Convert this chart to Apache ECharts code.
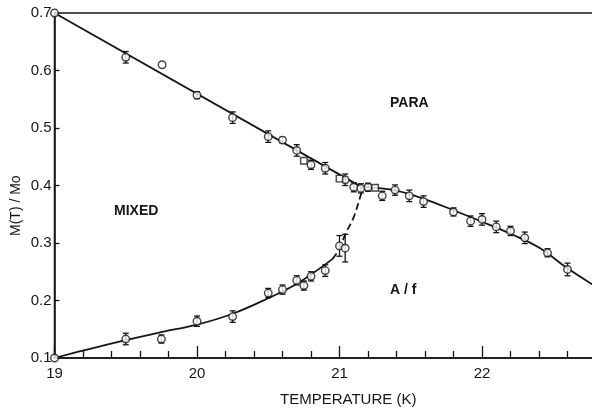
<!DOCTYPE html>
<html>
<head>
<meta charset="utf-8">
<script src="https://cdn.jsdelivr.net/npm/echarts@6/dist/echarts.min.js"></script>
<style>
  html, body { margin: 0; padding: 0; background: #fff; }
  #chart { width: 592px; height: 409px; }
</style>
</head>
<body>
<div id="chart"></div>
<script>
// upper boundary (PARA / MIXED) - open circles
const upperT   = [19.0, 19.50, 19.755, 20.0, 20.25, 20.50, 20.60, 20.70, 20.80, 20.90, 21.04, 21.10, 21.15, 21.20, 21.30, 21.39, 21.49, 21.59, 21.80, 21.92, 22.00, 22.10, 22.20, 22.30, 22.46, 22.60]
const upperM   = [0.700, 0.623, 0.610, 0.557, 0.518, 0.485, 0.479, 0.461, 0.436, 0.430, 0.410, 0.397, 0.395, 0.397, 0.382, 0.392, 0.382, 0.372, 0.354, 0.338, 0.341, 0.328, 0.321, 0.309, 0.283, 0.254]
const upperErr = [0, 0.010, 0, 0.006, 0.010, 0.010, 0.005, 0.010, 0.008, 0.010, 0.010, 0.008, 0.008, 0.007, 0.008, 0.009, 0.010, 0.010, 0.007, 0.009, 0.010, 0.010, 0.008, 0.010, 0.007, 0.011]
// square points on the upper boundary
const squareT = [20.75, 21.00, 21.25]
const squareM = [0.443, 0.412, 0.396]
// lower boundary (A/f / MIXED)
const lowerT   = [19.0, 19.50, 19.75, 20.00, 20.25, 20.50, 20.60, 20.70, 20.75, 20.80, 20.90, 21.00, 21.04]
const lowerM   = [0.100, 0.133, 0.133, 0.164, 0.172, 0.213, 0.219, 0.235, 0.226, 0.242, 0.252, 0.295, 0.291]
const lowerErr = [0, 0.010, 0.007, 0.009, 0.010, 0.008, 0.008, 0.008, 0.008, 0.008, 0.010, 0.018, 0.024]

// drawn curves
const lineStraightT = [19.0, 21.15]
const lineStraightM = [0.700, 0.398]
const lineRightT = [21.15, 21.25, 21.4, 21.6, 21.8, 22.0, 22.2, 22.4, 22.6, 22.8]
const lineRightM = [0.398, 0.396, 0.391, 0.376, 0.357, 0.337, 0.316, 0.292, 0.256, 0.224]
const lineLowT = [19.0, 19.25, 19.5, 19.75, 20.0, 20.25, 20.5, 20.7, 20.95]
const lineLowM = [0.100, 0.116, 0.131, 0.145, 0.158, 0.177, 0.204, 0.229, 0.272]
const lineDashT = [20.95, 21.0, 21.04, 21.1, 21.145, 21.165]
const lineDashM = [0.272, 0.290, 0.315, 0.345, 0.380, 0.397]

const xTicks = [19, 20, 21, 22]

const chart = echarts.init(document.getElementById('chart'))

function pairs(xs, ys) {
  return xs.map((x, i) => [x, ys[i]])
}
function errData(xs, ys, es) {
  const out = []
  xs.forEach((x, i) => {
    if (es[i] > 0) out.push([x, ys[i] - es[i], ys[i] + es[i]])
  })
  return out
}

const ink = '#151515'

function renderErr(params, api) {
  const x = api.value(0)
  const top = api.coord([x, api.value(2)])
  const bot = api.coord([x, api.value(1)])
  const w = 3
  const st = { stroke: ink, lineWidth: 1.3 }
  return {
    type: 'group',
    children: [
      { type: 'line', shape: { x1: top[0], y1: top[1], x2: bot[0], y2: bot[1] }, style: st },
      { type: 'line', shape: { x1: top[0] - w, y1: top[1], x2: top[0] + w, y2: top[1] }, style: st },
      { type: 'line', shape: { x1: bot[0] - w, y1: bot[1], x2: bot[0] + w, y2: bot[1] }, style: st }
    ]
  }
}

const lineBase = {
  type: 'line',
  symbol: 'none',
  silent: true,
  z: 2,
  lineStyle: { color: ink, width: 1.8 }
}
const markerBase = {
  type: 'scatter',
  symbolSize: 7.5,
  z: 5,
  itemStyle: { color: '#fff', borderColor: ink, borderWidth: 1.4 }
}

chart.setOption({
  animation: false,
  backgroundColor: '#fff',
  textStyle: { fontFamily: 'Liberation Sans' },
  grid: {
    left: 54.5,
    top: 13,
    width: 570,
    height: 345,
    outerBoundsMode: 'none',
    containLabel: false,
    show: true,
    borderColor: ink,
    borderWidth: 1.5
  },
  xAxis: {
    type: 'value',
    min: 19,
    max: 23,
    interval: 1,
    axisLine: { lineStyle: { color: ink, width: 1.5 } },
    axisTick: { inside: true, length: 12, lineStyle: { color: ink, width: 1.3 } },
    minorTick: { show: true, splitNumber: 5, length: 7, lineStyle: { color: ink, width: 1.3 } },
    splitLine: { show: false },
    axisLabel: {
      color: ink,
      fontSize: 15,
      margin: 8,
      showMaxLabel: false,
      formatter: v => xTicks.includes(v) ? String(v) : ''
    }
  },
  yAxis: {
    type: 'value',
    min: 0.1,
    max: 0.7,
    interval: 0.1,
    axisLine: { show: true, lineStyle: { color: ink, width: 1.5 } },
    axisTick: { show: true, inside: true, length: 5, lineStyle: { color: ink, width: 1.3 } },
    splitLine: { show: false },
    axisLabel: {
      color: ink,
      fontSize: 15,
      margin: 3,
      formatter: v => v.toFixed(1)
    }
  },
  graphic: [
    { type: 'text', left: 390, top: 96, style: { text: 'PARA', fontSize: 14, fontWeight: 'bold', fill: ink, fontFamily: 'Liberation Sans' } },
    { type: 'text', left: 114, top: 204, style: { text: 'MIXED', fontSize: 14, fontWeight: 'bold', fill: ink, fontFamily: 'Liberation Sans' } },
    { type: 'text', left: 390, top: 283, style: { text: 'A / f', fontSize: 14, fontWeight: 'bold', fill: ink, fontFamily: 'Liberation Sans' } },
    { type: 'text', left: 280, top: 392, style: { text: 'TEMPERATURE (K)', fontSize: 15, fill: ink, fontFamily: 'Liberation Sans' } },
    { type: 'text', x: 9, y: 236, rotation: Math.PI / 2, style: { text: 'M(T) / Mo', fontSize: 14, fill: ink, fontFamily: 'Liberation Sans' } }
  ],
  series: [
    Object.assign({}, lineBase, { data: pairs(lineStraightT, lineStraightM) }),
    Object.assign({}, lineBase, { data: pairs(lineRightT, lineRightM), smooth: 0.4 }),
    Object.assign({}, lineBase, { data: pairs(lineLowT, lineLowM), smooth: 0.4 }),
    Object.assign({}, lineBase, { data: pairs(lineDashT, lineDashM), smooth: 0.4, lineStyle: { color: ink, width: 1.8, type: [7, 4] } }),
    { type: 'custom', renderItem: renderErr, data: errData(upperT, upperM, upperErr), z: 3, silent: true },
    { type: 'custom', renderItem: renderErr, data: errData(lowerT, lowerM, lowerErr), z: 3, silent: true },
    Object.assign({}, markerBase, { data: pairs(upperT, upperM), symbol: 'circle' }),
    Object.assign({}, markerBase, { data: pairs(lowerT, lowerM), symbol: 'circle' }),
    Object.assign({}, markerBase, { data: pairs(squareT, squareM), symbol: 'rect', symbolSize: 6.5 })
  ]
})
</script>
</body>
</html>
